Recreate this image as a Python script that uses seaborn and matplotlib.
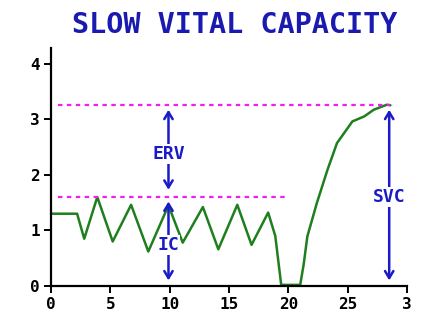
import matplotlib
matplotlib.use("Agg")
import matplotlib.pyplot as plt
import seaborn as sns
import pandas as pd

# Data
time_s = [0, 2.2, 2.8, 3.9, 5.2, 6.75, 8.2, 9.9, 11.1, 12.8, 14.1, 15.7, 16.9,
          18.3, 18.9, 19.4, 21.0, 21.3, 21.6, 22.4, 23.3, 24.1, 24.7, 25.4,
          26.4, 27.2, 28.3, 28.6]
volume_l = [1.3, 1.3, 0.85, 1.6, 0.8, 1.46, 0.62, 1.45, 0.78, 1.42, 0.66, 1.46,
            0.74, 1.32, 0.9, 0.02, 0.02, 0.4, 0.89, 1.49, 2.09, 2.57, 2.75,
            2.96, 3.05, 3.17, 3.26, 3.25]
x_ticks = [0, 5, 10, 15, 20, 25, 30]
x_tick_labels = ["0", "5", "10", "15", "20", "25", "3"]
y_ticks = [0, 1, 2, 3, 4]
y_tick_labels = ["0", "1", "2", "3", "4"]
svc_level = 3.25
irv_level = 1.6
title = "SLOW VITAL CAPACITY"

sns.set_style("white")
plt.rcParams["font.family"] = ["DejaVu Sans Mono"]

fig = plt.figure(figsize=(4.32, 3.29), dpi=100)
ax = fig.add_axes([51 / 432, 1 - 286 / 329, (407 - 51) / 432, (286 - 48) / 329])

df = pd.DataFrame({"t": time_s, "v": volume_l})
sns.lineplot(data=df, x="t", y="v", ax=ax, color="#1f7f1f", linewidth=1.8,
             sort=False)

magenta = "#f020e8"
ax.plot([0.6, 28.6], [svc_level, svc_level], color=magenta, lw=1.6,
        linestyle=(0, (2, 2)))
ax.plot([0.6, 19.7], [irv_level, irv_level], color=magenta, lw=1.6,
        linestyle=(0, (2, 2)))

blue = "#1a1ac8"
arrow_kw = dict(arrowstyle="<->,head_length=0.5,head_width=0.3", color=blue,
                lw=1.8, shrinkA=0, shrinkB=0)
ax.annotate("", xy=(9.9, 3.17), xytext=(9.9, 1.73), arrowprops=arrow_kw)
ax.annotate("", xy=(9.9, 1.52), xytext=(9.9, 0.1), arrowprops=arrow_kw)
ax.annotate("", xy=(28.5, 3.17), xytext=(28.5, 0.1), arrowprops=arrow_kw)
box = dict(facecolor="white", edgecolor="none", pad=0.5)
for x, y, s in [(9.9, 2.37, "ERV"), (9.9, 0.74, "IC"), (28.5, 1.6, "SVC")]:
    ax.text(x, y, s, color=blue, fontsize=13, fontweight="bold", ha="center",
            va="center", bbox=box)

ax.set_xlim(0, 30)
ax.set_ylim(0, 4.28)
ax.set_xticks(x_ticks)
ax.set_xticklabels(x_tick_labels)
ax.set_yticks(y_ticks)
ax.set_yticklabels(y_tick_labels)
ax.set_xlabel("")
ax.set_ylabel("")
for s in ["top", "right"]:
    ax.spines[s].set_visible(False)
for s in ["left", "bottom"]:
    ax.spines[s].set_color("black")
    ax.spines[s].set_linewidth(1.6)
ax.spines["bottom"].set_bounds(0, 30)
ax.tick_params(axis="both", which="major", length=5, width=1.4, color="black",
               labelsize=11.5, pad=3, labelcolor="black", left=True, bottom=True)
for lab in ax.get_xticklabels() + ax.get_yticklabels():
    lab.set_fontweight("bold")
for line in ax.lines:
    line.set_clip_on(False)

fig.text(235 / 432, 1 - 25 / 329, title, color="#1a1ab0", fontsize=20.5,
         fontweight="bold", ha="center", va="center")

fig.savefig("out.png", dpi=100, facecolor="white")
